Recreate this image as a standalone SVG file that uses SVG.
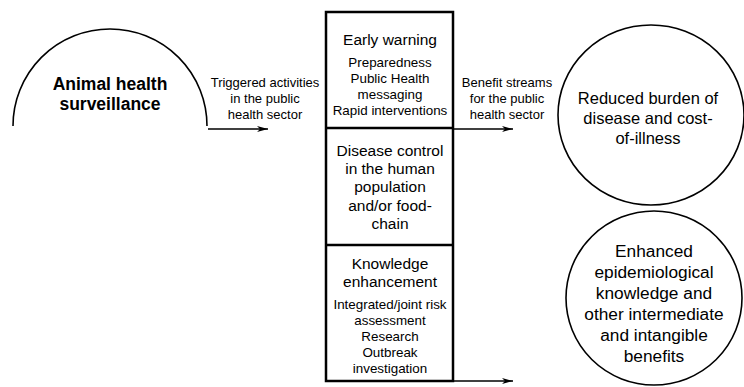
<svg xmlns="http://www.w3.org/2000/svg" width="744" height="387" viewBox="0 0 744 387">
<defs>
<marker id="ah" markerUnits="userSpaceOnUse" markerWidth="12" markerHeight="8" refX="11" refY="4" orient="auto">
<path d="M0,1 L11,4 L0,7 L3,4 Z" fill="#000"/>
</marker>
<style>
text{font-family:"Liberation Sans",Arial,Helvetica,sans-serif;fill:#000;text-anchor:middle}
.big{font-size:15.5px}
.sm{font-size:13.4px}
.lbl{font-size:13px}
.cir{font-size:16.5px}
.cir2{font-size:17.3px}
.shape{fill:none;stroke:#000;stroke-width:1.6}
.box{fill:none;stroke:#000;stroke-width:2.5}
.conn{fill:none;stroke:#000;stroke-width:1.3}
</style>
</defs>
<rect width="744" height="387" fill="#fff"/>
<g id="surveillance">
<path class="shape" d="M13,126 A97,97 0 0 1 207,126"/>
<text x="110" y="90" style="font-size:17.5px;font-weight:bold">Animal health</text>
<text x="110" y="110" style="font-size:17.5px;font-weight:bold">surveillance</text>
</g>
<g id="activities">
<rect class="box" x="326" y="12" width="127" height="369"/>
<line class="box" x1="326" y1="128" x2="453" y2="128"/>
<line class="box" x1="326" y1="245" x2="453" y2="245"/>
<g id="early-warning">
<text class="big" x="390" y="45">Early warning</text>
<text class="sm" x="390" y="67">Preparedness</text>
<text class="sm" x="390" y="83">Public Health</text>
<text class="sm" x="390" y="99">messaging</text>
<text class="sm" x="390" y="115">Rapid interventions</text>
</g>
<g id="disease-control">
<text class="big" x="390" y="156">Disease control</text>
<text class="big" x="390" y="174">in the human</text>
<text class="big" x="390" y="192">population</text>
<text class="big" x="390" y="211">and/or food-</text>
<text class="big" x="390" y="229">chain</text>
</g>
<g id="knowledge">
<text class="big" x="390" y="269">Knowledge</text>
<text class="big" x="390" y="287">enhancement</text>
<text class="sm" x="390" y="309">Integrated/joint risk</text>
<text class="sm" x="390" y="325">assessment</text>
<text class="sm" x="390" y="341">Research</text>
<text class="sm" x="390" y="357">Outbreak</text>
<text class="sm" x="390" y="373">investigation</text>
</g>
</g>
<g id="reduced-burden">
<ellipse class="shape" cx="651" cy="115" rx="93" ry="90"/>
<text class="cir" x="648" y="104">Reduced burden of</text>
<text class="cir" x="648" y="124">disease and cost-</text>
<text class="cir" x="648" y="144">of-illness</text>
</g>
<g id="enhanced-knowledge">
<ellipse class="shape" cx="654" cy="298" rx="88" ry="87"/>
<text class="cir2" x="654" y="257">Enhanced</text>
<text class="cir2" x="654" y="278">epidemiological</text>
<text class="cir2" x="654" y="299">knowledge and</text>
<text class="cir2" x="654" y="320">other intermediate</text>
<text class="cir2" x="654" y="341">and intangible</text>
<text class="cir2" x="654" y="362">benefits</text>
</g>
<g id="connectors">
<line class="conn" x1="208" y1="129" x2="268" y2="129" marker-end="url(#ah)"/>
<text class="lbl" x="265" y="87">Triggered activities</text>
<text class="lbl" x="265" y="103">in the public</text>
<text class="lbl" x="265" y="119">health sector</text>
<line class="conn" x1="453" y1="129" x2="513" y2="129" marker-end="url(#ah)"/>
<text class="lbl" x="507" y="87">Benefit streams</text>
<text class="lbl" x="507" y="103">for the public</text>
<text class="lbl" x="507" y="119">health sector</text>
<line class="conn" x1="453" y1="381" x2="513" y2="381" marker-end="url(#ah)"/>
</g>
</svg>
